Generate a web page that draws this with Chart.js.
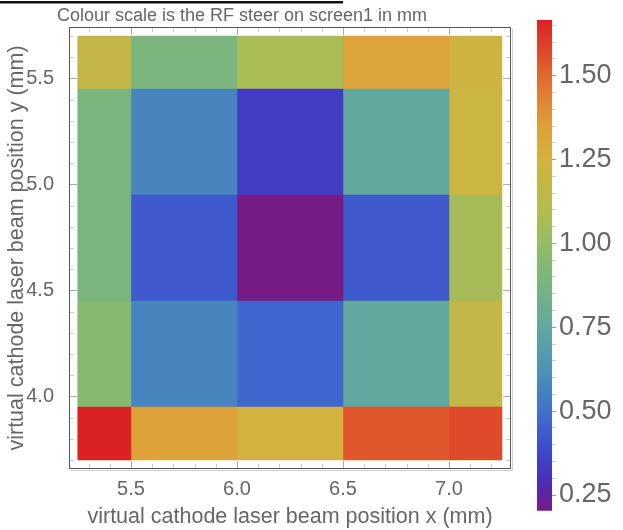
<!DOCTYPE html>
<html>
<head>
<meta charset="utf-8">
<script src="https://cdn.jsdelivr.net/npm/chart.js@4.4.1/dist/chart.umd.min.js"></script>
<style>
  html, body { margin: 0; padding: 0; background: #fff; }
  #wrap { position: relative; width: 623px; height: 530px; font-family: "Liberation Sans", Arial, sans-serif; }
  #title { position: absolute; left: 0; top: 6px; width: 484px; text-align: center; font-size: 18px; line-height: 18px; color: #666; }
  #heat { position: absolute; left: 0; top: 0; }
  #bar { position: absolute; left: 530px; top: 0; }
</style>
</head>
<body>
<div id="wrap">
  <canvas id="heat" width="530" height="530"></canvas>
  <canvas id="bar" width="93" height="530"></canvas>
  <div id="title">Colour scale is the RF steer on screen1 in mm</div>
</div>
<script>
// laser positions (mm)
const xPositions = [5.25, 5.75, 6.25, 6.75, 7.25];
const yPositions = [3.7, 4.2, 4.7, 5.2, 5.7];

// RF steer on screen1 (mm), one row per y position, columns follow xPositions
const steerY37 = [1.666, 1.34, 1.25, 1.54, 1.57];
const steerY42 = [0.94, 0.57, 0.47, 0.75, 1.17];
const steerY47 = [0.89, 0.43, 0.203, 0.43, 1.06];
const steerY52 = [0.89, 0.57, 0.34, 0.75, 1.21];
const steerY57 = [1.18, 0.89, 1.07, 1.33, 1.22];

const xTickLabels = [5.5, 6.0, 6.5, 7.0];
const yTickLabels = [4.0, 4.5, 5.0, 5.5];
const colourTickLabels = [0.25, 0.5, 0.75, 1.0, 1.25, 1.5];

// rainbow colour function
const colourStops = [
  [0.20, [120, 27, 133]],
  [0.30, [70, 48, 188]],
  [0.40, [62, 80, 206]],
  [0.50, [66, 112, 204]],
  [0.60, [74, 142, 186]],
  [0.75, [98, 168, 158]],
  [0.90, [124, 182, 124]],
  [1.00, [150, 188, 100]],
  [1.10, [178, 188, 80]],
  [1.25, [212, 178, 62]],
  [1.35, [222, 160, 58]],
  [1.50, [226, 104, 48]],
  [1.666, [218, 34, 36]]
];

const textGrey = '#666';
const fontFamily = '"Liberation Sans", Arial, sans-serif';

function colourFor(v) {
  if (v <= colourStops[0][0]) return rgb(colourStops[0][1]);
  for (let i = 1; i < colourStops.length; i++) {
    const [v1, c1] = colourStops[i];
    if (v <= v1) {
      const [v0, c0] = colourStops[i - 1];
      const t = (v - v0) / (v1 - v0);
      return rgb(c0.map((c, k) => c + (c1[k] - c) * t));
    }
  }
  return rgb(colourStops[colourStops.length - 1][1]);
}
function rgb(c) {
  return 'rgb(' + c.map(Math.round).join(',') + ')';
}

// cell edges halfway between sample positions (nearest-neighbour density plot)
function edgesOf(pos) {
  const e = [pos[0]];
  for (let i = 1; i < pos.length; i++) e.push((pos[i - 1] + pos[i]) / 2);
  e.push(pos[pos.length - 1]);
  return e;
}

const steer = [steerY37, steerY42, steerY47, steerY52, steerY57];
const xEdges = edgesOf(xPositions);
const yEdges = edgesOf(yPositions);
const allValues = steer.flat();
const vMin = Math.min(...allValues);
const vMax = Math.max(...allValues);

const cells = [];
steer.forEach((row, j) => {
  row.forEach((v, i) => {
    const x0 = xEdges[i], x1 = xEdges[i + 1];
    const y0 = yEdges[j], y1 = yEdges[j + 1];
    const c = colourFor(v);
    cells.push({
      data: [{x: x0, y: y0}, {x: x1, y: y0}, {x: x1, y: y1}, {x: x0, y: y1}, {x: x0, y: y0}],
      showLine: true,
      fill: 'shape',
      backgroundColor: c,
      borderColor: c,
      borderWidth: 0.5,
      pointRadius: 0,
      tension: 0
    });
  });
});

function minorTicks(min, max, step) {
  const out = [];
  for (let k = Math.ceil(min / step - 1e-9); k <= Math.floor(max / step + 1e-9); k++) {
    out.push({value: Math.round(k * step * 1000) / 1000});
  }
  return out;
}
function isMajor(v, majors) {
  return majors.some(m => Math.abs(m - v) < 1e-6);
}

const pad = 0.0425;

const framePlugin = {
  id: 'frame',
  afterDraw(chart) {
    const {ctx, chartArea: a, scales: {x, y}} = chart;
    ctx.save();
    // stray black rule along the top of the image
    ctx.fillStyle = '#111';
    ctx.fillRect(0, 1, 343, 2.5);
    // frame shadow + frame
    ctx.lineWidth = 1;
    ctx.strokeStyle = '#cfcfcf';
    ctx.beginPath();
    ctx.moveTo(a.left + 2, a.bottom + 1.5);
    ctx.lineTo(a.right + 1.5, a.bottom + 1.5);
    ctx.lineTo(a.right + 1.5, a.top + 2);
    ctx.stroke();
    ctx.strokeStyle = '#555';
    ctx.strokeRect(a.left + 0.5, a.top + 0.5, a.right - a.left - 1, a.bottom - a.top - 1);
    // inward frame ticks
    x.ticks.forEach(t => {
      const px = Math.round(x.getPixelForValue(t.value)) + 0.5;
      const major = isMajor(t.value, xTickLabels);
      const len = major ? 7 : 4;
      ctx.strokeStyle = major ? '#aaa' : '#ccc';
      ctx.beginPath();
      ctx.moveTo(px, a.bottom - 1); ctx.lineTo(px, a.bottom - 1 - len);
      ctx.moveTo(px, a.top + 1); ctx.lineTo(px, a.top + 1 + len);
      ctx.stroke();
    });
    y.ticks.forEach(t => {
      const py = Math.round(y.getPixelForValue(t.value)) + 0.5;
      const major = isMajor(t.value, yTickLabels);
      const len = major ? 7 : 4;
      ctx.strokeStyle = major ? '#aaa' : '#ccc';
      ctx.beginPath();
      ctx.moveTo(a.left + 1, py); ctx.lineTo(a.left + 1 + len, py);
      ctx.moveTo(a.right - 1, py); ctx.lineTo(a.right - 1 - len, py);
      ctx.stroke();
    });
    ctx.restore();
  }
};

new Chart(document.getElementById('heat'), {
  type: 'scatter',
  data: {datasets: cells},
  options: {
    responsive: false,
    animation: false,
    events: [],
    layout: {padding: {left: 4, right: 19, top: 27, bottom: 0}},
    plugins: {legend: {display: false}, tooltip: {enabled: false}},
    scales: {
      x: {
        type: 'linear',
        min: xPositions[0] - pad,
        max: xPositions[xPositions.length - 1] + pad,
        afterBuildTicks: s => { s.ticks = minorTicks(s.min, s.max, 0.1); },
        afterFit: s => { s.height = 61; },
        grid: {display: false},
        border: {display: false},
        ticks: {
          autoSkip: false, maxRotation: 0, padding: 0,
          color: textGrey, font: {family: fontFamily, size: 20},
          callback: v => isMajor(v, xTickLabels) ? v.toFixed(1) : ''
        },
        title: {
          display: true, text: 'virtual cathode laser beam position x (mm)',
          color: textGrey, font: {family: fontFamily, size: 21.5}, padding: {top: 0, bottom: 0}
        }
      },
      y: {
        type: 'linear',
        min: yPositions[0] - pad,
        max: yPositions[yPositions.length - 1] + pad,
        afterBuildTicks: s => { s.ticks = minorTicks(s.min, s.max, 0.1); },
        afterFit: s => { s.width = 65; },
        grid: {display: false},
        border: {display: false},
        ticks: {
          autoSkip: false, padding: 7,
          color: textGrey, font: {family: fontFamily, size: 20},
          callback: v => isMajor(v, yTickLabels) ? v.toFixed(1) : ''
        },
        title: {
          display: true, text: 'virtual cathode laser beam position y (mm)',
          color: textGrey, font: {family: fontFamily, size: 21.5}, padding: {top: 0, bottom: 0}
        }
      }
    }
  },
  plugins: [framePlugin]
});

// colour bar
new Chart(document.getElementById('bar'), {
  type: 'bar',
  data: {
    labels: [''],
    datasets: [{
      data: [[vMin, vMax]],
      barPercentage: 1,
      categoryPercentage: 1,
      borderWidth: 0,
      backgroundColor: c => {
        const chart = c.chart;
        const ys = chart.scales.y;
        if (!ys || !chart.chartArea) return '#888';
        const g = chart.ctx.createLinearGradient(0, ys.getPixelForValue(vMin), 0, ys.getPixelForValue(vMax));
        colourStops.forEach(([v, col]) => {
          const off = Math.min(1, Math.max(0, (v - vMin) / (vMax - vMin)));
          g.addColorStop(off, rgb(col));
        });
        return g;
      }
    }]
  },
  options: {
    responsive: false,
    animation: false,
    events: [],
    layout: {padding: {left: 7, right: 0, top: 20, bottom: 6}},
    plugins: {legend: {display: false}, tooltip: {enabled: false}},
    scales: {
      x: {display: false},
      y: {
        position: 'right',
        min: vMin,
        max: vMax,
        afterBuildTicks: s => { s.ticks = minorTicks(s.min, s.max, 0.05); },
        afterFit: s => { s.width = 71; },
        border: {display: false},
        grid: {
          drawOnChartArea: false, tickLength: 4,
          tickColor: c => isMajor(c.tick.value, colourTickLabels) ? '#999' : '#ccc'
        },
        ticks: {
          autoSkip: false, padding: 3,
          color: textGrey, font: {family: fontFamily, size: 27},
          callback: v => isMajor(v, colourTickLabels) ? v.toFixed(2) : ''
        }
      }
    }
  }
});
</script>
</body>
</html>
